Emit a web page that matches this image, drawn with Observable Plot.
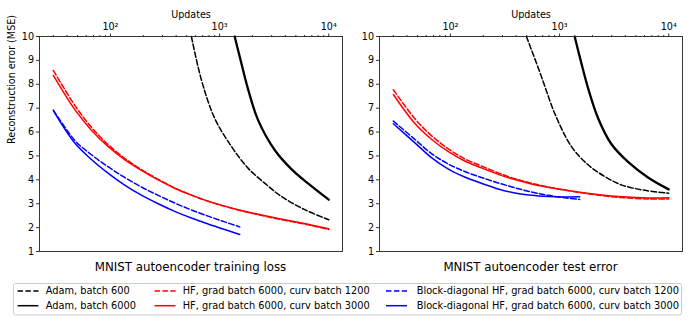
<!DOCTYPE html>
<html>
<head>
<meta charset="utf-8">
<script src="https://cdn.jsdelivr.net/npm/d3@7"></script>
<script src="https://cdn.jsdelivr.net/npm/@observablehq/plot@0.6"></script>
<style>
  html, body { margin: 0; padding: 0; background: white; }
  #root { position: relative; width: 692px; height: 322px; font-family: "DejaVu Sans", sans-serif; }
  .panel { position: absolute; top: 0; }
  .title { position: absolute; top: 260px; font-size: 11.8px; line-height: 15px; text-align: center; width: 320px; white-space: nowrap; }
  #legend { position: absolute; left: 0; top: 276px; }
</style>
</head>
<body>
<div id="root"></div>
<script>
// ---------- tick definitions ----------
const xTicksMajor = [100, 1000, 10000];
const xTickLabels = ["10²", "10³", "10⁴"];
const xTicksMinor = [30, 40, 50, 60, 70, 80, 90, 200, 300, 400, 500, 600, 700, 800, 900, 2000, 3000, 4000, 5000, 6000, 7000, 8000, 9000];
const yTicks = [1, 2, 3, 4, 5, 6, 7, 8, 9, 10];

// ---------- series labels ----------
const seriesKeys = ["adam600", "adam6000", "hf1200", "hf3000", "bd1200", "bd3000"];
const seriesLabels = [
  "Adam, batch 600",
  "Adam, batch 6000",
  "HF, grad batch 6000, curv batch 1200",
  "HF, grad batch 6000, curv batch 3000",
  "Block-diagonal HF, grad batch 6000, curv batch 1200",
  "Block-diagonal HF, grad batch 6000, curv batch 3000"
];
const seriesColors = ["black", "black", "red", "red", "blue", "blue"];
const seriesDashed = [true, false, true, false, true, false];

// ---------- training loss (left panel) ----------
const trainAdam600X = [552, 681, 901, 1282, 1823, 2590, 3680, 6030, 10000];
const trainAdam600Y = [10, 8.19, 6.58, 5.40, 4.49, 3.86, 3.31, 2.75, 2.33];
const trainAdam6000X = [1375, 1560, 1823, 2254, 3200, 4550, 6460, 10000];
const trainAdam6000Y = [10, 9.0, 7.8, 6.5, 5.25, 4.45, 3.85, 3.17];
const trainHF1200X = [30, 47, 67, 95, 135, 192, 274, 388, 552, 785, 1115, 1585, 3200, 6460, 10000];
const trainHF1200Y = [8.58, 7.13, 6.20, 5.48, 4.90, 4.43, 4.02, 3.66, 3.36, 3.10, 2.89, 2.70, 2.39, 2.12, 1.92];
const trainHF3000X = [30, 47, 67, 95, 135, 192, 274, 388, 552, 785, 1115, 1585, 3200, 6460, 10000];
const trainHF3000Y = [8.37, 6.95, 6.08, 5.40, 4.85, 4.40, 4.00, 3.65, 3.36, 3.11, 2.90, 2.72, 2.41, 2.14, 1.95];
const trainBD1200X = [30, 47, 67, 95, 135, 192, 274, 388, 552, 785, 1115, 1528];
const trainBD1200Y = [6.92, 5.66, 5.05, 4.55, 4.10, 3.70, 3.35, 3.03, 2.74, 2.48, 2.24, 2.03];
const trainBD3000X = [30, 47, 67, 95, 135, 192, 274, 388, 552, 785, 1115, 1528];
const trainBD3000Y = [6.90, 5.55, 4.85, 4.28, 3.78, 3.36, 3.00, 2.68, 2.40, 2.15, 1.92, 1.71];

// ---------- test error (right panel) ----------
const testAdam600X = [497, 681, 901, 1282, 1823, 2590, 3680, 6030, 10000];
const testAdam600Y = [10, 8.33, 6.79, 5.40, 4.63, 4.14, 3.79, 3.56, 3.44];
const testAdam6000X = [1375, 1560, 1823, 2254, 2980, 4240, 6460, 10000];
const testAdam6000Y = [10, 9.0, 7.84, 6.58, 5.50, 4.75, 4.10, 3.60];
const testHF1200X = [30, 47, 67, 95, 135, 192, 274, 388, 552, 785, 1115, 1585, 3200, 6460, 10000];
const testHF1200Y = [7.77, 6.57, 5.85, 5.31, 4.88, 4.58, 4.29, 4.05, 3.86, 3.70, 3.57, 3.46, 3.28, 3.20, 3.20];
const testHF3000X = [30, 47, 67, 95, 135, 192, 274, 388, 552, 785, 1115, 1585, 3200, 6460, 10000];
const testHF3000Y = [7.57, 6.37, 5.70, 5.19, 4.79, 4.50, 4.23, 4.01, 3.83, 3.69, 3.57, 3.47, 3.31, 3.24, 3.25];
const testBD1200X = [30, 47, 67, 95, 135, 192, 274, 388, 552, 785, 1115, 1528];
const testBD1200Y = [6.46, 5.70, 5.10, 4.67, 4.35, 4.10, 3.87, 3.67, 3.49, 3.35, 3.25, 3.18];
const testBD3000X = [30, 47, 67, 95, 135, 192, 274, 388, 552, 785, 1115, 1528];
const testBD3000Y = [6.35, 5.56, 4.93, 4.46, 4.12, 3.86, 3.62, 3.45, 3.35, 3.30, 3.28, 3.29];

function rows(xs, ys, key) { return xs.map((x, i) => ({x, y: ys[i], key})); }

const trainData = [
  rows(trainAdam600X, trainAdam600Y, "adam600"),
  rows(trainAdam6000X, trainAdam6000Y, "adam6000"),
  rows(trainHF1200X, trainHF1200Y, "hf1200"),
  rows(trainHF3000X, trainHF3000Y, "hf3000"),
  rows(trainBD1200X, trainBD1200Y, "bd1200"),
  rows(trainBD3000X, trainBD3000Y, "bd3000")
];
const testData = [
  rows(testAdam600X, testAdam600Y, "adam600"),
  rows(testAdam6000X, testAdam6000Y, "adam6000"),
  rows(testHF1200X, testHF1200Y, "hf1200"),
  rows(testHF3000X, testHF3000Y, "hf3000"),
  rows(testBD1200X, testBD1200Y, "bd1200"),
  rows(testBD3000X, testBD3000Y, "bd3000")
];

const DASH = "5.5,2.4";

function panel(seriesList, width, marginRight, showYLabel) {
  const lineMarks = seriesList.map((data, i) => Plot.line(data, {
    x: "x", y: "y",
    stroke: seriesColors[i],
    strokeWidth: seriesKeys[i] === "adam6000" ? 2.3 : 1.5,
    strokeDasharray: seriesDashed[i] ? DASH : null,
    curve: "catmull-rom"
  }));
  return Plot.plot({
    width, height: 255,
    marginLeft: 39, marginRight, marginTop: 36, marginBottom: 4,
    style: {fontFamily: "DejaVu Sans", fontSize: "9.6px", background: "transparent", color: "black", overflow: "visible"},
    x: {type: "log", domain: [22.4, 13370]},
    y: {domain: [1, 10]},
    marks: [
      Plot.axisX({anchor: "top", ticks: xTicksMinor, tickSize: 2, tickFormat: () => "", label: null, strokeWidth: 0.8}),
      Plot.axisX({anchor: "top", ticks: xTicksMajor, tickSize: 3.5, tickPadding: 3, tickFormat: d => xTickLabels[xTicksMajor.indexOf(d)], label: null, strokeWidth: 0.8}),
      Plot.axisY({ticks: yTicks, tickSize: 3, tickPadding: 2.5, label: null, strokeWidth: 0.8}),
      ...lineMarks,
      Plot.frame({stroke: "#222", strokeWidth: 0.9}),
      Plot.text(["Updates"], {text: d => d, frameAnchor: "top", dy: -25, fill: "black"}),
      showYLabel ? Plot.text(["Reconstruction error (MSE)"], {text: d => d, frameAnchor: "left", dx: -27.5, rotate: -90, fill: "black"}) : null
    ]
  });
}

const root = document.getElementById("root");

const left = panel(trainData, 344, 2, true);
left.classList.add("panel");
left.style.left = "0px";
root.appendChild(left);

const right = panel(testData, 352, 10, false);
right.classList.add("panel");
right.style.left = "340px";
root.appendChild(right);

const t1 = document.createElement("div");
t1.className = "title";
t1.textContent = "MNIST autoencoder training loss";
t1.style.left = (190.5 - 160) + "px";
root.appendChild(t1);

const t2 = document.createElement("div");
t2.className = "title";
t2.textContent = "MNIST autoencoder test error";
t2.style.left = (530.5 - 160) + "px";
root.appendChild(t2);

// ---------- legend ----------
const ns = "http://www.w3.org/2000/svg";
const leg = document.createElementNS(ns, "svg");
leg.setAttribute("id", "legend");
leg.setAttribute("width", 692);
leg.setAttribute("height", 46);
root.appendChild(leg);
const box = document.createElementNS(ns, "rect");
box.setAttribute("x", 13.5); box.setAttribute("y", 7.5);
box.setAttribute("width", 668); box.setAttribute("height", 31.5);
box.setAttribute("rx", 2); box.setAttribute("fill", "white");
box.setAttribute("stroke", "#cccccc"); box.setAttribute("stroke-width", 1);
leg.appendChild(box);
const colLineX = [17.5, 154.5, 386];
const colTextX = [45.7, 182.7, 416.7];
const rowY = [15, 29.7];
seriesKeys.forEach((k, i) => {
  const col = Math.floor(i / 2), row = i % 2;
  const ln = document.createElementNS(ns, "line");
  ln.setAttribute("x1", colLineX[col]); ln.setAttribute("x2", colLineX[col] + 21);
  ln.setAttribute("y1", rowY[row]); ln.setAttribute("y2", rowY[row]);
  ln.setAttribute("stroke", seriesColors[i]);
  ln.setAttribute("stroke-width", 1.5);
  if (seriesDashed[i]) ln.setAttribute("stroke-dasharray", DASH);
  leg.appendChild(ln);
  const tx = document.createElementNS(ns, "text");
  tx.setAttribute("x", colTextX[col]); tx.setAttribute("y", rowY[row]);
  tx.setAttribute("dy", "0.35em");
  tx.setAttribute("font-family", "DejaVu Sans");
  tx.setAttribute("font-size", "9.8px");
  tx.textContent = seriesLabels[i];
  leg.appendChild(tx);
});
</script>
</body>
</html>
